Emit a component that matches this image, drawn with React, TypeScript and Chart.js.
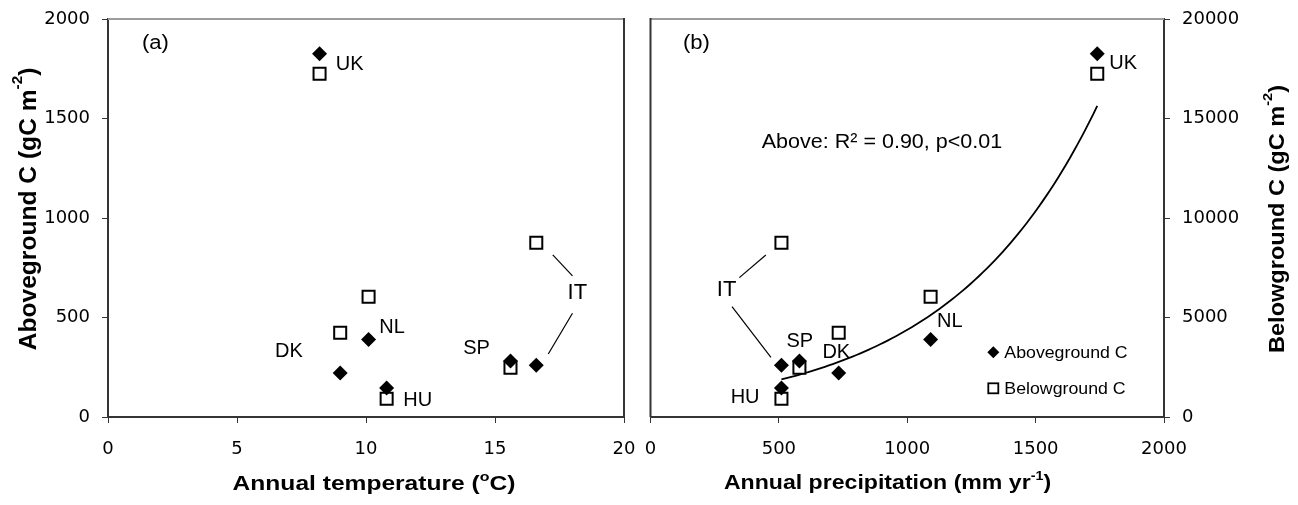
import React, { useEffect, useRef } from 'react';
import { Chart, registerables } from 'chart.js';

Chart.register(...registerables);

// ---------------- data ----------------
const countries = ['UK', 'DK', 'NL', 'HU', 'SP', 'IT'];
const temperature = [8.2, 9.0, 10.1, 10.8, 15.6, 16.6];
const precipitation = [1740, 733, 1091, 510, 580, 510];
const aboveground = [1825, 221, 389, 146, 282, 260];
const belowground = [17250, 4230, 6040, 920, 2470, 8760];

const temperatureTicks = [0, 5, 10, 15, 20];
const precipitationTicks = [0, 500, 1000, 1500, 2000];
const abovegroundTicks = [0, 500, 1000, 1500, 2000];
const belowgroundTicks = [0, 5000, 10000, 15000, 20000];

const fitText = 'Above: R\u00B2 = 0.90, p<0.01';
const legendLabels = ['Aboveground C', 'Belowground C'];

// ---------------- styles / layout ----------------
const W = 1298;
const H = 505;
const SPLIT = 640;
const FONT = '"Liberation Sans", Arial, Helvetica, sans-serif';
const TICK_FONT = { family: '"DejaVu Sans", sans-serif', size: 18 };
const AXIS = '#353535';
const FRAME_TOP = '#9c9c9c';

type Off = [number, number];
const labelOffsetsA: Record<string, Off> = {
  UK: [16.3, 16.2], DK: [-65.2, -16.3], NL: [10.7, -6.9], HU: [16.7, 18.1], SP: [-47.2, -6.9], IT: [31.3, -66],
};
const labelOffsetsB: Record<string, Off> = {
  UK: [12.1, 15.5], DK: [-16.3, -14.7], NL: [6.5, -12.9], HU: [-50.8, 14.8], SP: [-13, -14.2], IT: [-64.6, -69.3],
};
const leaderA = [[16.5, -110.3, 36.2, -89.3], [36.2, -52, 12, -11.3]];
const leaderB = [[-42.1, -87.6, -15.6, -110.3], [-49.4, -58.6, -10.5, -8]];

type Run = { t: string; sup?: boolean };

function drawRich(
  ctx: CanvasRenderingContext2D,
  runs: Run[],
  x: number,
  y: number,
  o: { size: number; bold?: boolean; sx?: number; rotate?: number; align?: 'left' | 'center'; supScale?: number; supRaise?: number }
) {
  const font = (s: number) => `${o.bold ? 'bold ' : ''}${s}px ${FONT}`;
  const supSize = o.size * (o.supScale ?? 0.62);
  let w = 0;
  const widths = runs.map((r) => {
    ctx.font = font(r.sup ? supSize : o.size);
    const m = ctx.measureText(r.t).width;
    w += m;
    return m;
  });
  ctx.save();
  ctx.translate(x, y);
  if (o.rotate) ctx.rotate(o.rotate);
  ctx.scale(o.sx ?? 1, 1);
  ctx.fillStyle = '#000';
  ctx.textAlign = 'left';
  ctx.textBaseline = 'alphabetic';
  let cx = o.align === 'center' ? -w / 2 : 0;
  runs.forEach((r, i) => {
    ctx.font = font(r.sup ? supSize : o.size);
    ctx.fillText(r.t, cx, r.sup ? -o.size * (o.supRaise ?? 0.45) : 0);
    cx += widths[i];
  });
  ctx.restore();
}

function expFit(xs: number[], ys: number[]) {
  const n = xs.length;
  const ly = ys.map((v) => Math.log(v));
  const mx = xs.reduce((a, b) => a + b, 0) / n;
  const my = ly.reduce((a, b) => a + b, 0) / n;
  let sxy = 0;
  let sxx = 0;
  for (let i = 0; i < n; i++) {
    sxy += (xs[i] - mx) * (ly[i] - my);
    sxx += (xs[i] - mx) * (xs[i] - mx);
  }
  const b = sxy / sxx;
  const a = Math.exp(my - b * mx);
  return { a, b };
}

function axis(values: number[], position: string, padding: number, fit: (s: any) => void) {
  return {
    type: 'linear',
    position,
    min: values[0],
    max: values[values.length - 1],
    afterBuildTicks: (s: any) => {
      s.ticks = values.map((v) => ({ value: v }));
    },
    afterFit: fit,
    ticks: {
      color: '#000',
      font: TICK_FONT,
      padding,
      autoSkip: false,
      maxRotation: 0,
      callback: (v: any) => String(v),
    },
    grid: { drawOnChartArea: false, drawTicks: true, tickLength: 6, tickColor: AXIS, tickWidth: 1 },
    border: { display: true, color: AXIS, width: 2 },
  };
}

function decoPlugin(panel: 'a' | 'b', left: number) {
  const xs = panel === 'a' ? temperature : precipitation;
  const offs = panel === 'a' ? labelOffsetsA : labelOffsetsB;
  const leaders = panel === 'a' ? leaderA : leaderB;
  return {
    id: 'deco-' + panel,
    afterDraw(chart: any) {
      const { ctx, chartArea: ca, scales } = chart;
      const P = (px: number) => px - left;
      ctx.save();
      // frame
      ctx.strokeStyle = FRAME_TOP;
      ctx.lineWidth = 2;
      ctx.beginPath();
      ctx.moveTo(ca.left, ca.top);
      ctx.lineTo(ca.right, ca.top);
      ctx.stroke();
      ctx.strokeStyle = AXIS;
      ctx.lineWidth = 2;
      const vx = panel === 'a' ? ca.right : ca.left;
      ctx.beginPath();
      ctx.moveTo(vx, ca.top - 1);
      ctx.lineTo(vx, ca.bottom);
      ctx.stroke();

      // country labels
      const sX = scales.x;
      const sY = scales.y;
      let itX = 0;
      let itY = 0;
      countries.forEach((c, i) => {
        const px = sX.getPixelForValue(xs[i]);
        const py = sY.getPixelForValue(aboveground[i]);
        if (c === 'IT') {
          itX = px;
          itY = py;
        }
        const [dx, dy] = offs[c];
        drawRich(ctx, [{ t: c }], px + dx, py + dy, { size: c === 'IT' ? 22 : 20 });
      });
      // leader lines for IT
      ctx.strokeStyle = '#000';
      ctx.lineWidth = 1.2;
      leaders.forEach(([x1, y1, x2, y2]) => {
        ctx.beginPath();
        ctx.moveTo(itX + x1, itY + y1);
        ctx.lineTo(itX + x2, itY + y2);
        ctx.stroke();
      });

      if (panel === 'a') {
        drawRich(ctx, [{ t: '(a)' }], P(142), 49.2, { size: 19.5, sx: 1.13 });
        drawRich(ctx, [{ t: 'Annual temperature (' }, { t: 'o', sup: true }, { t: 'C)' }], P(374), 490, {
          size: 21, bold: true, sx: 1.17, align: 'center', supScale: 0.65, supRaise: 0.45,
        });
        drawRich(ctx, [{ t: 'Aboveground C (gC m' }, { t: '-2', sup: true }, { t: ')' }], P(36), 209, {
          size: 24.6, bold: true, sx: 1.0, align: 'center', rotate: -Math.PI / 2, supScale: 0.62, supRaise: 0.55,
        });
      } else {
        drawRich(ctx, [{ t: '(b)' }], P(683), 49.2, { size: 19.5, sx: 1.13 });
        drawRich(ctx, [{ t: fitText }], P(761.7), 148.3, { size: 20.5, sx: 1.05 });
        drawRich(ctx, [{ t: 'Annual precipitation (mm yr' }, { t: '-1', sup: true }, { t: ')' }], P(887.5), 489, {
          size: 21, bold: true, sx: 1.1, align: 'center', supScale: 0.62, supRaise: 0.45,
        });
        drawRich(ctx, [{ t: 'Belowground C (gC m' }, { t: '-2', sup: true }, { t: ')' }], P(1284), 219, {
          size: 22, bold: true, sx: 1.07, align: 'center', rotate: -Math.PI / 2, supScale: 0.62, supRaise: 0.55,
        });
        // legend
        const mx = P(993.3);
        const r = 6;
        ctx.fillStyle = '#000';
        ctx.beginPath();
        ctx.moveTo(mx, 352.3 - r);
        ctx.lineTo(mx + r, 352.3);
        ctx.lineTo(mx, 352.3 + r);
        ctx.lineTo(mx - r, 352.3);
        ctx.closePath();
        ctx.fill();
        ctx.fillStyle = '#fff';
        ctx.fillRect(mx - 5, 388.3 - 5, 10, 10);
        ctx.strokeStyle = '#000';
        ctx.lineWidth = 1.8;
        ctx.strokeRect(mx - 5, 388.3 - 5, 10, 10);
        drawRich(ctx, [{ t: legendLabels[0] }], P(1004.3), 358.3, { size: 16.3, sx: 1.09 });
        drawRich(ctx, [{ t: legendLabels[1] }], P(1004.3), 394.3, { size: 16.3, sx: 1.09 });
      }
      ctx.restore();
    },
  };
}

export default function App() {
  const refA = useRef<HTMLCanvasElement>(null);
  const refB = useRef<HTMLCanvasElement>(null);

  useEffect(() => {
    const fit = expFit(precipitation, aboveground);
    const pMin = Math.min(...precipitation);
    const pMax = Math.max(...precipitation);
    const steps = 80;
    const trend = Array.from({ length: steps + 1 }, (_, k) => {
      const x = pMin + ((pMax - pMin) * k) / steps;
      return { x, y: fit.a * Math.exp(fit.b * x) };
    });

    const common = {
      responsive: false,
      animation: false,
      devicePixelRatio: 1,
      events: [],
      layout: { padding: 0 },
      plugins: { legend: { display: false }, tooltip: { enabled: false } },
    };

    const above = (xs: number[]) => ({
      label: legendLabels[0],
      data: xs.map((x, i) => ({ x, y: aboveground[i] })),
      yAxisID: 'y',
      pointStyle: 'rectRot',
      pointRadius: 7.5,
      pointBackgroundColor: '#000',
      pointBorderWidth: 0,
      backgroundColor: '#000',
      borderWidth: 0,
      showLine: false,
    });
    const below = (xs: number[]) => ({
      label: legendLabels[1],
      data: xs.map((x, i) => ({ x, y: belowground[i] })),
      yAxisID: 'y2',
      pointStyle: 'rect',
      pointRadius: 8.5,
      pointBackgroundColor: '#fff',
      pointBorderColor: '#000',
      pointBorderWidth: 2,
      backgroundColor: '#fff',
      borderColor: '#000',
      showLine: false,
    });

    const chartA = new Chart(refA.current as HTMLCanvasElement, {
      type: 'scatter',
      data: { datasets: [above(temperature), below(temperature)] as any },
      options: {
        ...common,
        scales: {
          x: axis(temperatureTicks, 'bottom', 16, (s: any) => {
            s.height = 88;
            s.paddingLeft = 0;
            s.paddingRight = 16;
          }),
          y: axis(abovegroundTicks, 'left', 12, (s: any) => {
            s.width = 108;
            s.paddingTop = 19;
            s.paddingBottom = 0;
          }),
          y2: { type: 'linear', display: false, min: belowgroundTicks[0], max: belowgroundTicks[belowgroundTicks.length - 1] },
        },
      } as any,
      plugins: [decoPlugin('a', 0)],
    });

    const chartB = new Chart(refB.current as HTMLCanvasElement, {
      type: 'scatter',
      data: {
        datasets: [
          above(precipitation),
          below(precipitation),
          {
            label: 'trend',
            data: trend,
            yAxisID: 'y',
            showLine: true,
            borderColor: '#000',
            borderWidth: 1.8,
            pointRadius: 0,
            tension: 0,
            fill: false,
          },
        ] as any,
      },
      options: {
        ...common,
        scales: {
          x: axis(precipitationTicks, 'bottom', 16, (s: any) => {
            s.height = 88;
            s.paddingLeft = 8;
            s.paddingRight = 0;
          }),
          y: { type: 'linear', display: false, min: abovegroundTicks[0], max: abovegroundTicks[abovegroundTicks.length - 1] },
          y2: axis(belowgroundTicks, 'right', 12, (s: any) => {
            s.width = 134;
            s.paddingTop = 19;
            s.paddingBottom = 0;
          }),
        },
      } as any,
      plugins: [decoPlugin('b', SPLIT)],
    });

    return () => {
      chartA.destroy();
      chartB.destroy();
    };
  }, []);

  return (
    <div style={{ position: 'absolute', left: 0, top: 0, width: W, height: H, background: '#fff' }}>
      <canvas
        ref={refA}
        width={SPLIT}
        height={H}
        style={{ position: 'absolute', left: 0, top: 0, width: SPLIT, height: H }}
      />
      <canvas
        ref={refB}
        width={W - SPLIT}
        height={H}
        style={{ position: 'absolute', left: SPLIT, top: 0, width: W - SPLIT, height: H }}
      />
    </div>
  );
}
